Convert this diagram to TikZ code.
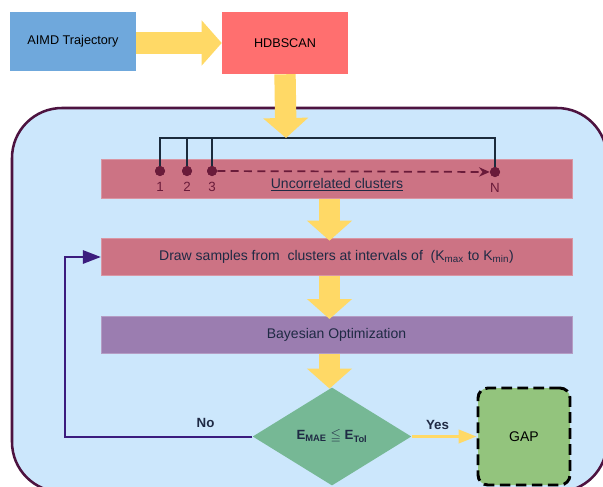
\documentclass[tikz,border=0pt]{standalone}
\usepackage{fontspec}
\setmainfont{Liberation Sans}
\usepackage{amssymb}
\usetikzlibrary{positioning, arrows.meta, shapes.geometric}

\definecolor{aimdblue}{HTML}{6FA8DC}
\definecolor{hdbred}{HTML}{FF6F6F}
\definecolor{arrowyellow}{HTML}{FFD966}
\definecolor{panelblue}{HTML}{CCE7FC}
\definecolor{panelborder}{HTML}{4D1340}
\definecolor{barpink}{HTML}{CC7384}
\definecolor{barpurple}{HTML}{9B7DB0}
\definecolor{decgreen}{HTML}{76B895}
\definecolor{gapgreen}{HTML}{93C47D}
\definecolor{textnavy}{HTML}{1F2A44}
\definecolor{dotmaroon}{HTML}{6A1B3A}
\definecolor{nopurple}{HTML}{3B1C7E}
\definecolor{bracketnavy}{HTML}{1B2B3C}

\tikzset{%
  x=0.75pt, y=-0.75pt, % one unit is one pixel of the reference
  box/.style={inner sep=0pt, text=black, font=\fontsize{9.5}{11}\selectfont},
  bar/.style={fill=barpink, draw=barpink!75!white, line width=0.5pt,
    minimum width=353pt, minimum height=28pt, inner sep=0pt,
    text=textnavy, font=\fontsize{10.5}{12}\selectfont},
  dot/.style={circle, fill=dotmaroon, inner sep=0pt, minimum size=7.5pt},
  num/.style={text=dotmaroon, font=\fontsize{10}{11}\selectfont, inner sep=1pt},
  fatarrow/.style={draw=arrowyellow, line width=16pt, -{Triangle[width=33pt, length=15pt]}},
  bracket/.style={draw=bracketnavy, line width=1.5pt},
  decision/.style={diamond, fill=decgreen, inner sep=0pt, minimum width=119pt,
    minimum height=73.5pt, text=textnavy, font=\bfseries\fontsize{10}{12}\selectfont},
  answer/.style={text=textnavy, font=\bfseries\fontsize{10}{12}\selectfont, inner sep=2pt}
}

\begin{document}
\begin{tikzpicture}
    \clip (0,0) rectangle (603,486);
    \fill[white] (0,0) rectangle (603,486);
    % panel round the loop
    \draw[fill=panelblue, draw=panelborder, line width=1.9pt, rounded corners=37.5pt]
        (12,108) rectangle (607,492);

    \node[box, fill=aimdblue, minimum width=94.5pt, minimum height=44.25pt] (aimd) at (73,41.5) {AIMD Trajectory};
    \node[box, fill=hdbred, minimum width=94.5pt, minimum height=46.5pt] (hdb) at (285,43) {HDBSCAN};

    \node[bar, minimum height=29pt] (uc) at (336.5,179) {};
    \node[text=textnavy, font=\fontsize{10.5}{12}\selectfont, inner sep=0pt] (uctext) at (337,185) {\underline{Uncorrelated clusters}};
    \node[bar] (ds) at (336.5,257) {Draw samples from\ \ clusters at intervals of \ (K\textsubscript{max} to K\textsubscript{min})};
    \node[bar, fill=barpurple, draw=barpurple!75!white, minimum height=27.5pt] (bo) at (336.5,335) {Bayesian Optimization};

    \node[decision] (dia) at (332,436.5) {E\textsubscript{MAE} $\leqq$ E\textsubscript{Tol}};
    \node[box, fill=gapgreen, draw=black, line width=2.2pt, dash pattern=on 8pt off 4pt,
        rounded corners=7.5pt, minimum width=69pt, minimum height=72.75pt,
        font=\fontsize{10.5}{12}\selectfont] (gap) at (524,436.5) {GAP};

    % clusters 1, 2, 3 ... N
    \coordinate (brk) at (286,138);
    \coordinate (ax) at (329.5,0);
    \node[dot] (d1) at (160,171) {};
    \node[dot] (d2) at (187,171) {};
    \node[dot] (d3) at (212,171) {};
    \node[dot] (dN) at (495,172) {};
    \draw[bracket] (d1.center) |- (brk) -| (dN.center);
    \draw[bracket] (d2.center) -- (d2 |- brk);
    \draw[bracket] (d3.center) -- (d3 |- brk);
    \node[dot] at (d1) {};
    \node[dot] at (d2) {};
    \node[dot] at (d3) {};
    \node[dot] at (dN) {};
    \draw[dotmaroon, line width=1.3pt, dash pattern=on 6pt off 4pt, -{Stealth[length=8pt, width=7pt]}]
        (d3) -- (dN);
    \node[num, below=3pt of d1] (n1) {1};
    \node[num, below=3pt of d2] (n2) {2};
    \node[num, below=3pt of d3] (n3) {3};
    \node[num, below=3pt of dN] (nN) {N};

    % flow
    \draw[fatarrow] (aimd.east |- hdb.west) -- (hdb.west);
    \draw[fatarrow] (hdb.south) -- (brk);
    \draw[fatarrow, shorten >=-2pt] (uc.south -| ax) -- (ds.north -| ax);
    \draw[fatarrow, shorten >=-2pt] (ds.south -| ax) -- (bo.north -| ax);
    \draw[fatarrow, shorten >=-1pt] (bo.south -| ax) -- (dia.north -| ax);

    \draw[draw=arrowyellow, line width=2.2pt, -{Triangle[width=10pt, length=13.5pt]}]
        (dia.east) -- node[answer, above=2pt, pos=0.4] {Yes} (gap.west);
    \coordinate (nc) at (65,0);
    \draw[draw=nopurple, line width=1.5pt, -{Triangle[width=10pt, length=13.5pt]}]
        (dia.west) -| node[answer, above=4pt, pos=0.125] {No} (nc |- ds.west) -- (ds.west);
\end{tikzpicture}
\end{document}
